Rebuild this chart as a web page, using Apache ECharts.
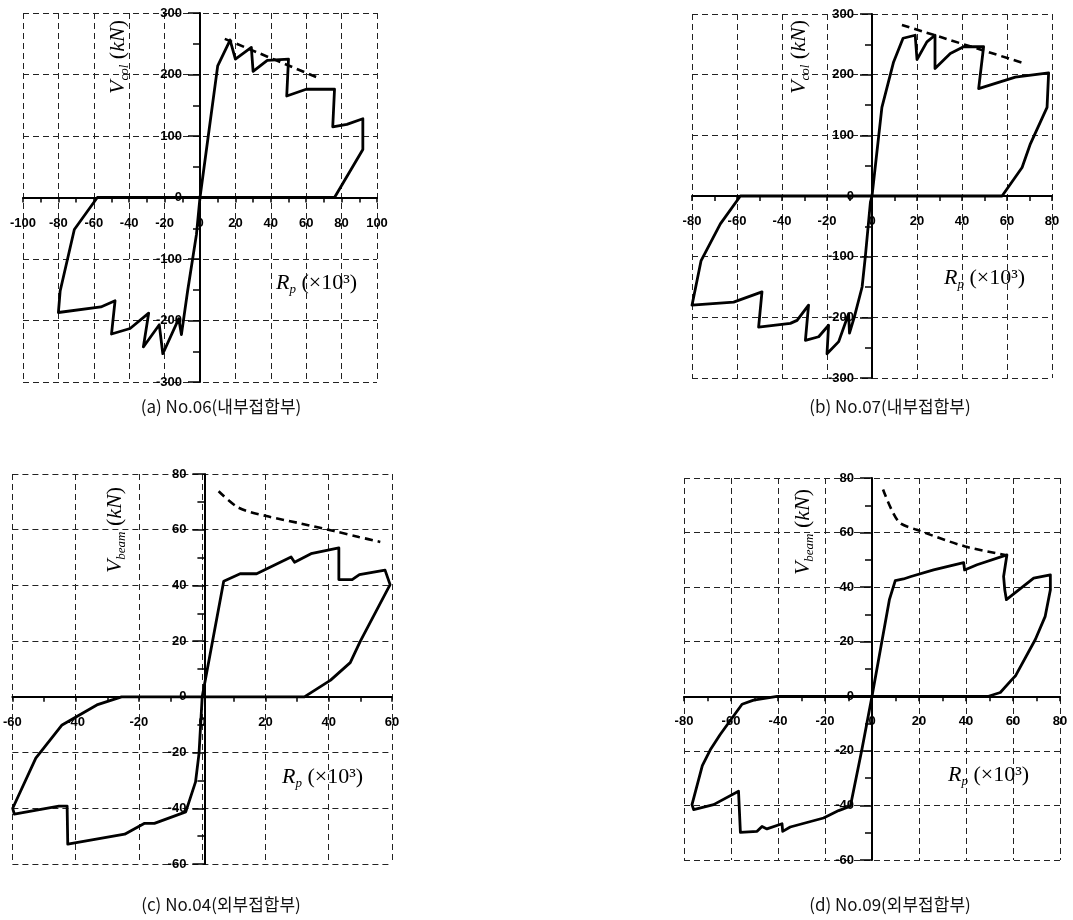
<!DOCTYPE html>
<html><head><meta charset="utf-8">
<script src="https://cdn.jsdelivr.net/npm/echarts@6/dist/echarts.min.js"></script>
<style>html,body{margin:0;padding:0;background:#fff}#c{width:1073px;height:920px}</style>
</head><body><div id="c"></div>
<script>
// ---- data (x: Rp ×10^3, y: shear kN) ----
var curveA = [[0,0],[10,214],[17,256],[20,225],[29,244],[30,205],[38,223],[50,225],[49,165],[60,176],[76,176],[75,115],[83,119],[92,128],[92,78],[76,0],[-58,0],[-71,-52],[-79,-152],[-80,-187],[-56,-178],[-48,-168],[-50,-222],[-39.5,-213],[-29,-188],[-32,-243],[-23,-207],[-21,-254],[-12,-197],[-10.5,-223],[-7,-152],[-2,-60],[0,0]];
var envA = [[14,258],[68,193]];
var curveB = [[0,0],[4.4,146],[9.6,221],[13.8,260],[19.2,265],[20,225],[24.4,254],[28,265],[28,210],[34.8,235],[40.7,246],[49.6,246],[47.4,177],[63.7,196],[78.5,203],[77.8,146],[70.4,86],[66.7,47],[57.8,0],[-58.5,0],[-67.4,-46],[-76,-107],[-80,-180],[-61.5,-175],[-48.9,-158],[-50.4,-216],[-36.3,-210],[-33.3,-205],[-28.2,-180],[-29.6,-238],[-23.7,-232],[-19.3,-213],[-20,-260],[-14.8,-240],[-10.4,-194],[-10,-226],[-7.9,-200],[-4.4,-150],[-3,-101],[-0.7,-10],[0,0]];
var envB = [[13.3,282],[67.4,219]];
var curveC = [[0,0],[6.8,41.5],[12,44.2],[17.2,44.2],[28.1,50.2],[29.2,48.3],[34.4,51.4],[43.2,53.5],[43.2,42.1],[47.4,42.1],[49.7,43.9],[57.8,45.5],[59.4,40.3],[50,20],[46.8,12.3],[40.6,6],[32.3,0],[-25.5,0],[-33.3,-2.9],[-44.3,-10.1],[-52.6,-22],[-59.9,-40],[-59.4,-42.1],[-45.3,-39.2],[-42.7,-39.2],[-42.5,-52.9],[-24.5,-49.3],[-18.2,-45.4],[-15.1,-45.4],[-5.2,-41.3],[-2.1,-30.5],[-1,-20.3],[0,0]];
var envC = [[5.2,73.8],[11.5,67.9],[20.3,64.9],[31.3,62.2],[41.7,59.5],[49.5,57.4],[56.3,55.6]];
var curveD = [[0,0],[7.4,35.4],[9.9,42.4],[13.4,43],[16.6,43.9],[17.4,43.2],[26.2,46.3],[39,49],[39.4,46.3],[44.7,48.2],[57.4,51.8],[56,43.9],[56.5,39],[57.2,35.4],[68.8,43.3],[75.9,44.5],[75.9,39],[73.7,29.3],[69.5,20.8],[61,7.4],[59.6,6.2],[54.6,1.4],[49.6,0],[-40.4,0],[-50.4,-1.4],[-55.3,-2.9],[-64.6,-14],[-68.6,-19.3],[-72.2,-25.4],[-76.6,-39.7],[-75.9,-41.5],[-67.4,-39.7],[-56.8,-34.8],[-56,-49.9],[-48.9,-49.5],[-46.8,-47.7],[-44.7,-48.6],[-38.3,-46.7],[-38,-49.5],[-34.8,-47.9],[-20.6,-44.6],[-14.2,-41.9],[-9.2,-40.3],[-4.3,-19.5],[0,0]];
var envD = [[4.7,75.8],[11.3,64],[19.1,61],[39.7,54.9],[56.7,51.8]];
var captions = ['(a) No.06(내부접합부)','(b) No.07(내부접합부)','(c) No.04(외부접합부)','(d) No.09(외부접합부)'];
var xRanges = [[-100,100],[-80,80],[-60,60],[-80,80]];
var yRanges = [[-300,300,100],[-300,300,100],[-60,80,20],[-60,80,20]];

var chart = echarts.init(document.getElementById('c'), null, {renderer:'canvas'});
var grids = [
  {left:23, top:13, width:354, height:369},
  {left:692, top:14, width:360, height:364},
  {left:8, top:474, width:384, height:390},
  {left:684, top:478, width:376, height:382}
];
var dash = {type:[6,4], color:'#222', width:1};
var lab = {fontWeight:'bold', fontSize:13, color:'#000', fontFamily:'Liberation Sans, Arial, sans-serif'};
var xAxes = [], yAxes = [];
for (var i=0;i<4;i++){
  var g = grids[i];
  // shift axes so they cross at zero (labels follow the axis)
  var xOff = -g.height * (0 - yRanges[i][0]) / (yRanges[i][1] - yRanges[i][0]);
  var yOff = -g.width * (0 - xRanges[i][0]) / (xRanges[i][1] - xRanges[i][0]);
  xAxes.push({gridIndex:i, type:'value', position:'bottom', offset:xOff, min:xRanges[i][0], max:xRanges[i][1], interval:20,
    axisLine:{onZero:false, lineStyle:{color:'#000', width:2}},
    axisTick:{show:true, length:5, lineStyle:{color:'#000', width:1.5}},
    minorTick:{show:true, splitNumber:2, length:5, lineStyle:{color:'#000', width:1.5}},
    axisLabel:Object.assign({margin:19}, lab),
    splitLine:{show:true, lineStyle:dash}});
  yAxes.push({gridIndex:i, type:'value', position:'left', offset:yOff, min:yRanges[i][0], max:yRanges[i][1], interval:yRanges[i][2],
    axisLine:{onZero:false, lineStyle:{color:'#000', width:2}},
    axisTick:{show:true, length:12, lineStyle:{color:'#000', width:1.5}},
    minorTick:{show:true, splitNumber:2, length:7, lineStyle:{color:'#000', width:1.5}},
    axisLabel:Object.assign({margin:18}, lab),
    splitLine:{show:true, lineStyle:dash}});
}
function solid(i, d){return {type:'line', xAxisIndex:i, yAxisIndex:i, data:d, showSymbol:false, symbol:'none', silent:true, animation:false, z:3,
  lineStyle:{color:'#000', width:2.8, join:'round'}};}
function dashed(i, d){return {type:'line', xAxisIndex:i, yAxisIndex:i, data:d, showSymbol:false, symbol:'none', silent:true, animation:false, smooth:0.3, z:3,
  lineStyle:{color:'#000', width:2.6, type:[8,5]}};}

var serif = 'Liberation Serif, Times New Roman, serif';
var rich = {
  i:{fontFamily:serif, fontStyle:'italic', fontSize:22, color:'#000', lineHeight:26, verticalAlign:'middle'},
  n:{fontFamily:serif, fontSize:22, color:'#000', lineHeight:26, verticalAlign:'middle'},
  s:{fontFamily:serif, fontStyle:'italic', fontSize:13, color:'#000', lineHeight:26, padding:[14,0,0,0], verticalAlign:'middle'}
};
function vlabel(x,y,sub){return {type:'text', x:x, y:y, rotation:Math.PI/2, z:10,
  style:{text:'{i|V}{s|'+sub+'}{n| (}{i|kN}{n|)}', rich:rich, align:'center', verticalAlign:'middle'}};}
function rlabel(x,y){return {type:'text', x:x, y:y, z:10,
  style:{text:'{i|R}{s|p}{n| (×10³)}', rich:rich, align:'left', verticalAlign:'middle'}};}
function cap(x,y,t){return {type:'text', x:x, y:y, z:10,
  style:{text:t, font:'17px "Noto Sans CJK KR", sans-serif', fill:'#111', align:'center', verticalAlign:'middle'}};}

chart.setOption({
  animation:false,
  grid:grids,
  xAxis:xAxes,
  yAxis:yAxes,
  series:[solid(0,curveA), dashed(0,envA), solid(1,curveB), dashed(1,envB), solid(2,curveC), dashed(2,envC), solid(3,curveD), dashed(3,envD)],
  graphic:[
    vlabel(118,57,'col'), rlabel(276,283),
    vlabel(799,57,'col'), rlabel(944,278),
    vlabel(115,530,'beam'), rlabel(282,777),
    vlabel(803,532,'beam'), rlabel(948,775),
    cap(221,407,captions[0]), cap(890,407,captions[1]), cap(221,905,captions[2]), cap(890,905,captions[3])
  ]
});
</script></body></html>
